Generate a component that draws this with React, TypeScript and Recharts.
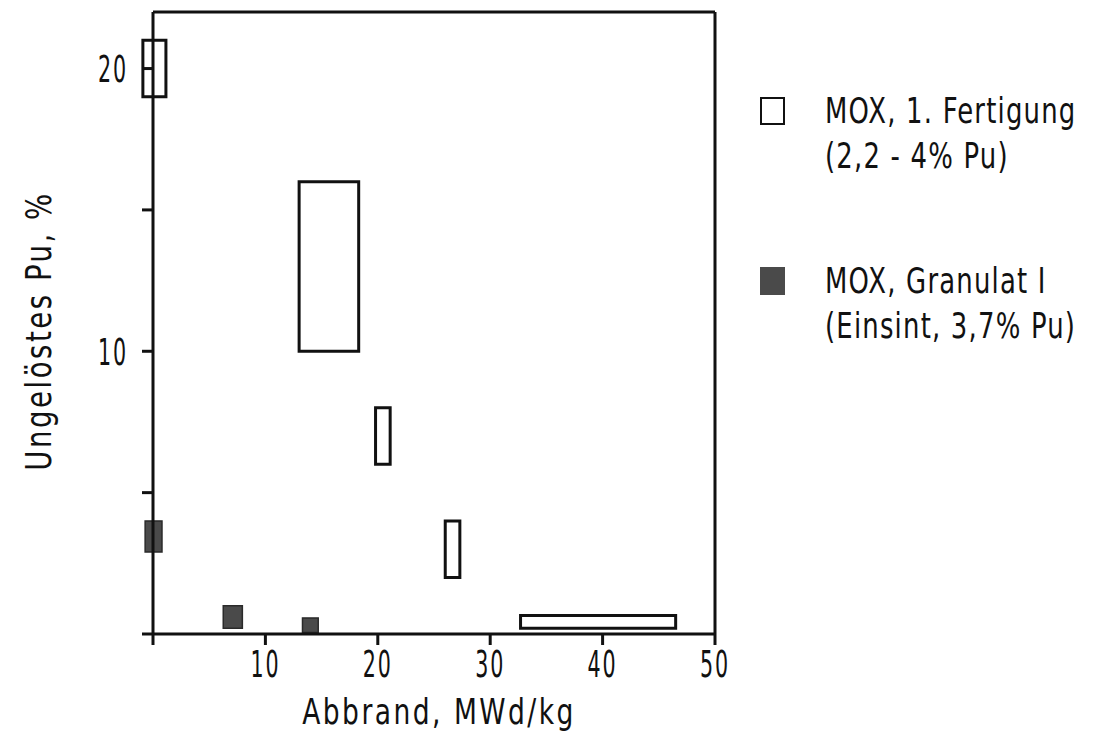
import React from 'react';
import { ComposedChart, XAxis, YAxis, ReferenceArea, ReferenceLine } from 'recharts';

// Abbrand (MWd/kg) und ungelöstes Pu (%) – jede Box ist ein Messbereich.
const openX1 = [-0.9, 13.0, 19.8, 26.0, 32.7];
const openX2 = [1.15, 18.3, 21.1, 27.3, 46.5];
const openY1 = [19, 10, 6, 2, 0.2];
const openY2 = [21, 16, 8, 4, 0.65];

const filledX1 = [-0.7, 6.25, 13.3];
const filledX2 = [0.8, 7.95, 14.7];
const filledY1 = [2.9, 0.2, 0.05];
const filledY2 = [4.0, 1.0, 0.57];

const xTicks = [0, 10, 20, 30, 40, 50];
const yTicks = [0, 5, 10, 15, 20];
const yLabelled = [10, 20];

const legendItems = [
  { filled: false, line1: 'MOX, 1. Fertigung', line2: '(2,2 - 4% Pu)' },
  { filled: true, line1: 'MOX, Granulat I', line2: '(Einsint, 3,7% Pu)' },
];

const FONT = "'DejaVu Sans Condensed', 'DejaVu Sans', sans-serif";
const INK = '#111';
const GREY = '#4a4a4a';

// schmale Schrift nachbilden: horizontal gestaucht
const XTick = ({ x, y, payload }: any) =>
  payload.value === 0 ? null : (
    <text
      transform={`translate(${x},${y}) scale(0.62,1)`}
      textAnchor="middle"
      dy="0.72em"
      fontFamily={FONT}
      fontSize={37}
      letterSpacing={3}
      fill={INK}
    >
      {payload.value}
    </text>
  );

const YTick = ({ x, y, payload }: any) =>
  !yLabelled.includes(payload.value) ? null : (
    <text
      transform={`translate(${x},${y}) scale(0.62,1)`}
      textAnchor="end"
      dy="0.36em"
      fontFamily={FONT}
      fontSize={37}
      letterSpacing={3}
      fill={INK}
    >
      {payload.value}
    </text>
  );

const YLabel = ({ viewBox }: any) => {
  const cx = viewBox.x + 33;
  const cy = viewBox.y + viewBox.height / 2 + 8;
  return (
    <text
      transform={`translate(${cx},${cy}) rotate(-90) scale(0.85,1)`}
      textAnchor="middle"
      dominantBaseline="middle"
      fontFamily={FONT}
      fontSize={36}
      letterSpacing={3}
      fill={INK}
    >
      Ungelöstes Pu, %
    </text>
  );
};

const XLabel = ({ viewBox }: any) => {
  const cx = viewBox.x + viewBox.width / 2 + 5;
  const cy = viewBox.y + 80;
  return (
    <text
      transform={`translate(${cx},${cy}) scale(0.82,1)`}
      textAnchor="middle"
      dominantBaseline="middle"
      fontFamily={FONT}
      fontSize={36}
      letterSpacing={3}
      fill={INK}
    >
      Abbrand, MWd/kg
    </text>
  );
};

export default function App() {
  return (
    <div style={{ position: 'relative', width: 1080, height: 740, background: '#fff' }}>
      <ComposedChart width={1080} height={740} data={[]} margin={{ top: 4, right: 373, bottom: 0, left: 0 }}>
        <XAxis
          type="number"
          dataKey="x"
          domain={[0, 50]}
          ticks={xTicks}
          allowDataOverflow
          tick={<XTick />}
          tickSize={11}
          tickMargin={5}
          height={114}
          axisLine={{ stroke: INK, strokeWidth: 3 }}
          tickLine={{ stroke: INK, strokeWidth: 3 }}
          label={<XLabel />}
        />
        <YAxis
          type="number"
          dataKey="y"
          domain={[0, 22]}
          ticks={yTicks}
          allowDataOverflow
          tick={<YTick />}
          tickSize={11}
          tickMargin={14}
          width={145}
          axisLine={{ stroke: INK, strokeWidth: 3 }}
          tickLine={{ stroke: INK, strokeWidth: 3 }}
          label={<YLabel />}
        />
        <ReferenceLine y={22} stroke={INK} strokeWidth={3} ifOverflow="visible" />
        <ReferenceLine x={50} stroke={INK} strokeWidth={3} ifOverflow="visible" />
        {openX1.map((x1, i) => (
          <ReferenceArea
            key={`o${i}`}
            x1={x1}
            x2={openX2[i]}
            y1={openY1[i]}
            y2={openY2[i]}
            ifOverflow="visible"
            fill="#fff"
            fillOpacity={1}
            stroke={INK}
            strokeWidth={3}
          />
        ))}
        {filledX1.map((x1, i) => (
          <ReferenceArea
            key={`f${i}`}
            x1={x1}
            x2={filledX2[i]}
            y1={filledY1[i]}
            y2={filledY2[i]}
            ifOverflow="visible"
            fill={GREY}
            fillOpacity={1}
            stroke="#2a2a2a"
            strokeWidth={1.5}
          />
        ))}
      </ComposedChart>
      <div style={{ position: 'absolute', left: 752, top: 80, fontFamily: FONT, color: INK }}>
        {legendItems.map((it, i) => (
          <div key={i} style={{ display: 'flex', alignItems: 'flex-start', height: 90, marginBottom: i === 0 ? 80 : 0 }}>
            <div
              style={{
                width: 25,
                height: 28,
                marginTop: 9,
                boxSizing: 'border-box',
                background: it.filled ? GREY : '#fff',
                border: it.filled ? '0' : `2.5px solid ${INK}`,
                flex: 'none',
              }}
            />
            <div
              style={{
                marginLeft: 40,
                fontSize: 36,
                lineHeight: '45px',
                letterSpacing: 1.5,
                whiteSpace: 'nowrap',
                transform: 'scaleX(0.8)',
                transformOrigin: 'left top',
              }}
            >
              <div>{it.line1}</div>
              <div>{it.line2}</div>
            </div>
          </div>
        ))}
      </div>
    </div>
  );
}
